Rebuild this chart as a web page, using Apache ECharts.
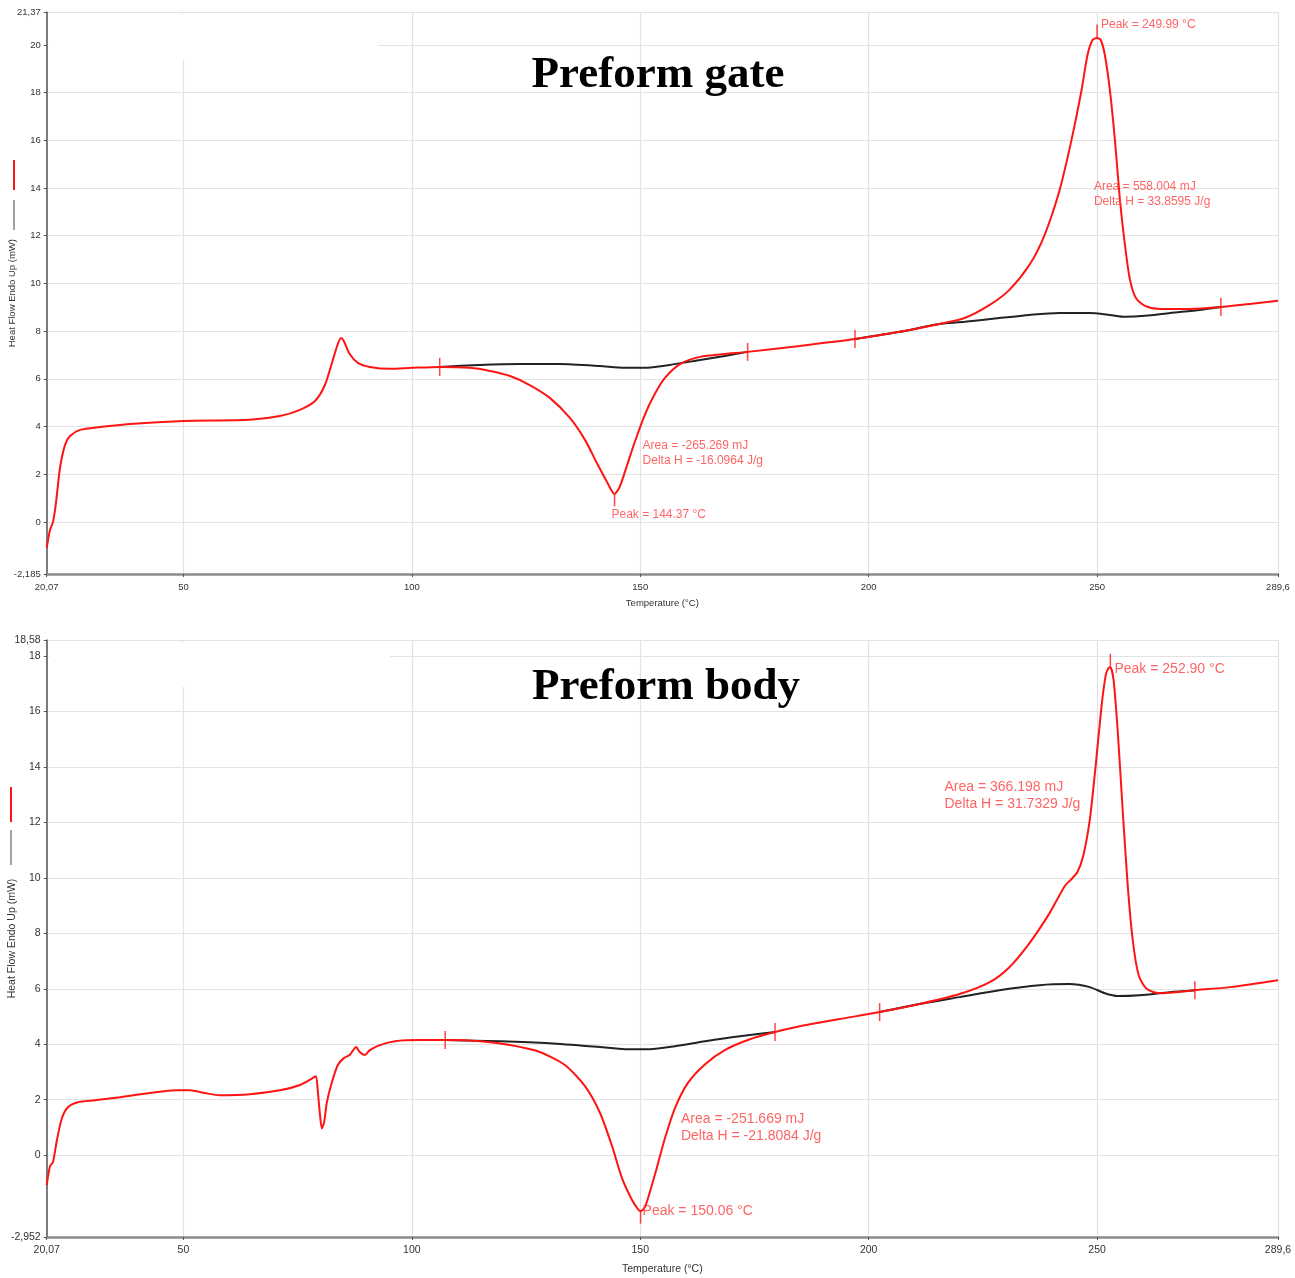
<!DOCTYPE html>
<html>
<head>
<meta charset="utf-8">
<script src="https://cdn.jsdelivr.net/npm/echarts@6.0.0/dist/echarts.min.js"></script>
<style>
html, body { margin: 0; padding: 0; background: #fff; }
#view { width: 1295px; height: 1278px; }
</style>
</head>
<body>
<div id="view"></div>
<script>
var myCharts = echarts.init(document.getElementById("view"));

/* 上图：Preform gate */
var gateCurve = [
  [20.07, -1.09], [20.79, -0.34], [21.45, 0.0], [22.1, 0.8], [22.98, 2.26], [24.08, 3.23],
  [25.17, 3.6], [27.36, 3.86], [31.73, 3.98], [38.3, 4.11], [50.1, 4.23], [64.5, 4.28],
  [71.1, 4.44], [75.5, 4.7], [78.8, 5.07], [80.97, 5.74], [82.7, 6.79], [83.8, 7.46],
  [84.5, 7.71], [85.1, 7.59], [86.4, 7.04], [88.2, 6.67], [90.8, 6.5], [95.2, 6.42],
  [100.0, 6.46], [106.1, 6.5], [112.7, 6.46], [117.1, 6.33], [121.5, 6.12], [125.8, 5.74],
  [130.2, 5.2], [134.6, 4.36], [137.9, 3.44], [140.5, 2.47], [142.7, 1.68], [144.37, 1.17],
  [145.5, 1.47], [147.0, 2.31], [148.8, 3.35], [151.0, 4.49], [153.2, 5.37], [155.4, 6.04],
  [158.7, 6.62], [163.1, 6.92], [168.5, 7.04], [173.5, 7.13], [184.9, 7.38], [197.0, 7.67],
  [206.8, 7.97], [215.5, 8.3], [221.0, 8.55], [226.5, 9.1], [230.8, 9.73], [235.2, 10.78],
  [238.5, 12.03], [241.8, 13.92], [244.4, 16.02], [246.6, 18.11], [247.9, 19.58], [249.0, 20.21],
  [249.99, 20.29], [250.8, 20.21], [251.7, 19.58], [252.8, 18.11], [253.9, 16.02], [255.0, 13.5],
  [256.1, 11.61], [257.2, 10.15], [258.5, 9.39], [260.5, 9.06], [263.8, 8.93], [270.3, 8.93],
  [277.1, 9.01], [283.4, 9.14], [289.6, 9.27]
];
var gateBase1 = [
  [106.1, 6.5], [114.8, 6.58], [123.6, 6.62], [132.3, 6.62], [141.1, 6.54], [146.5, 6.46],
  [151.0, 6.46], [156.4, 6.58], [163.1, 6.79], [168.5, 6.96], [173.5, 7.13]
];
var gateBase2 = [
  [197.0, 7.67], [206.8, 7.97], [215.5, 8.3], [221.0, 8.39], [228.6, 8.55], [235.2, 8.68],
  [241.8, 8.76], [248.3, 8.76], [252.8, 8.68], [256.1, 8.6], [260.5, 8.64], [266.0, 8.76],
  [272.5, 8.89], [277.1, 9.01]
];
var gateLimits = [[106.1, 6.5], [173.5, 7.13], [197.0, 7.67], [277.1, 9.01]];
var gatePeaks = [[144.37, 1.17, 'down'], [249.99, 20.29, 'up']];
var gateNotes = [
  [250.86, 20.84, 'Peak = 249.99 °C'],
  [249.3, 13.75, 'Area = 558.004 mJ\nDelta H = 33.8595 J/g'],
  [150.5, 2.89, 'Area = -265.269 mJ\nDelta H = -16.0964 J/g'],
  [143.7, 0.29, 'Peak = 144.37 °C']
];
var gateYTicks = [-2.185, 0, 2, 4, 6, 8, 10, 12, 14, 16, 18, 20, 21.37];

/* 下图：Preform body */
var bodyCurve = [
  [20.07, -1.08], [20.79, -0.4], [21.45, -0.25], [22.3, 0.54], [23.4, 1.33], [24.7, 1.73],
  [26.9, 1.91], [30.6, 1.98], [36.1, 2.09], [42.7, 2.24], [48.2, 2.34], [51.4, 2.34],
  [54.7, 2.24], [58.0, 2.16], [64.6, 2.2], [71.1, 2.34], [75.5, 2.53], [78.3, 2.78],
  [79.0, 2.85], [79.4, 2.34], [79.9, 1.44], [80.3, 0.97], [80.8, 1.19], [81.4, 1.91],
  [82.5, 2.63], [83.8, 3.25], [85.1, 3.5], [86.4, 3.61], [87.8, 3.9], [88.6, 3.72],
  [89.7, 3.61], [90.8, 3.79], [93.0, 3.97], [96.3, 4.11], [101.8, 4.15], [107.3, 4.15],
  [114.9, 4.11], [121.5, 3.97], [128.0, 3.72], [133.5, 3.25], [137.9, 2.49], [141.2, 1.52],
  [143.9, 0.29], [146.0, -0.83], [148.2, -1.62], [149.5, -1.95], [150.06, -2.02], [151.0, -1.88],
  [152.1, -1.33], [153.6, -0.47], [155.4, 0.61], [157.6, 1.7], [160.4, 2.6], [164.2, 3.28],
  [168.5, 3.79], [174.0, 4.18], [179.5, 4.44], [184.9, 4.65], [193.7, 4.91], [202.4, 5.16],
  [211.1, 5.45], [219.9, 5.81], [226.5, 6.24], [230.8, 6.78], [235.2, 7.65], [239.6, 8.73],
  [242.9, 9.7], [244.4, 9.96], [245.7, 10.21], [247.0, 10.82], [248.4, 12.09], [249.7, 14.07],
  [251.0, 16.23], [251.9, 17.32], [252.5, 17.57], [252.9, 17.6], [253.6, 17.14], [254.5, 15.33],
  [255.6, 12.45], [256.7, 9.74], [257.8, 7.76], [259.1, 6.49], [260.9, 5.99], [263.8, 5.84],
  [271.4, 5.95], [279.1, 6.06], [289.6, 6.31]
];
var bodyBase1 = [
  [107.3, 4.15], [119.3, 4.11], [130.2, 4.04], [141.2, 3.9], [146.6, 3.82], [152.1, 3.82],
  [157.6, 3.93], [164.2, 4.11], [171.8, 4.29], [179.5, 4.44]
];
var bodyBase2 = [
  [202.4, 5.16], [211.1, 5.45], [219.9, 5.7], [228.6, 5.95], [237.4, 6.13], [243.9, 6.17],
  [248.4, 6.06], [251.7, 5.84], [254.5, 5.74], [259.3, 5.77], [265.9, 5.88], [271.4, 5.95]
];
var bodyLimits = [[107.3, 4.15], [179.5, 4.44], [202.4, 5.16], [271.4, 5.95]];
var bodyPeaks = [[150.06, -2.02, 'down'], [252.9, 17.6, 'up']];
var bodyNotes = [
  [253.8, 17.53, 'Peak = 252.90 °C'],
  [216.6, 12.95, 'Area = 366.198 mJ\nDelta H = 31.7329 J/g'],
  [158.9, 1.01, 'Area = -251.669 mJ\nDelta H = -21.8084 J/g'],
  [150.5, -2.02, 'Peak = 150.06 °C']
];
var bodyYTicks = [-2.952, 0, 2, 4, 6, 8, 10, 12, 14, 16, 18, 18.58];

var xTicks = [20.07, 50, 100, 150, 200, 250, 289.6];

var RED = '#ff1414';
var NOTE_RED = '#ff3c3c';

function comma(v) {
    return String(v).replace('.', ',');
}

function makeXAxis(gi, ticks, fs, gap) {
    return {
        gridIndex: gi, type: 'value', min: ticks[0], max: ticks[ticks.length - 1],
        name: 'Temperature (°C)', nameLocation: 'middle', nameGap: gap, nameMoveOverlap: false,
        nameTextStyle: { fontSize: fs, color: '#333', fontFamily: 'Liberation Sans' },
        axisLine: { onZero: false, lineStyle: { color: '#8a8a8a', width: 2.5 } },
        axisTick: { customValues: ticks, length: 3, lineStyle: { color: '#555' } },
        axisLabel: { customValues: ticks, formatter: comma, fontSize: fs, color: '#333', margin: 8, fontFamily: 'Liberation Sans' },
        splitLine: { show: true, lineStyle: { color: '#e2e2e2', width: 1.2 } }
    };
}

function makeYAxis(gi, ticks, fs) {
    return {
        gridIndex: gi, type: 'value', min: ticks[0], max: ticks[ticks.length - 1],
        name: 'Heat Flow Endo Up (mW)', nameLocation: 'middle', nameGap: 29, nameRotate: 90,
        nameMoveOverlap: false,
        nameTextStyle: { fontSize: fs, color: '#333', fontFamily: 'Liberation Sans' },
        axisLine: { show: true, onZero: false, lineStyle: { color: '#555', width: 1.5 } },
        axisTick: { show: true, customValues: ticks, length: 3, lineStyle: { color: '#555' } },
        axisLabel: { customValues: ticks, formatter: comma, fontSize: fs, color: '#333', margin: 6, fontFamily: 'Liberation Sans' },
        splitLine: { show: true, lineStyle: { color: '#e2e2e2', width: 1.2 } }
    };
}

function curveSeries(gi, data, color) {
    return {
        type: 'line', xAxisIndex: gi, yAxisIndex: gi, data: data,
        showSymbol: false, smooth: 0.25,
        lineStyle: { color: color, width: 2 }, z: color === RED ? 4 : 3, silent: true
    };
}

function limitSeries(gi, data) {
    return {
        type: 'scatter', xAxisIndex: gi, yAxisIndex: gi, data: data,
        symbol: 'rect', symbolSize: [1.5, 18], itemStyle: { color: RED }, z: 5, silent: true
    };
}

function peakSeries(gi, data) {
    return {
        type: 'scatter', xAxisIndex: gi, yAxisIndex: gi,
        data: data.map(function (p) {
            return {
                value: [p[0], p[1]],
                symbolOffset: [0, p[2] === 'down' ? 6 : -7]
            };
        }),
        symbol: 'rect', symbolSize: [1.5, 13], itemStyle: { color: RED }, z: 5, silent: true
    };
}

function noteSeries(gi, data, fs, lh) {
    return {
        type: 'scatter', xAxisIndex: gi, yAxisIndex: gi, symbolSize: 0,
        data: data.map(function (n) { return { value: [n[0], n[1]], note: n[2] }; }),
        label: {
            show: true, position: 'right', distance: 0,
            formatter: function (p) { return p.data.note; },
            color: NOTE_RED, fontSize: fs, lineHeight: lh, fontFamily: 'Liberation Sans'
        },
        z: 6, silent: true
    };
}

option = {
    animation: false,
    backgroundColor: '#fff',
    grid: [
        { left: 46.7, right: 17, top: 12.3, height: 561.7, outerBoundsMode: 'none' },
        { left: 46.7, right: 17, top: 640, height: 597, outerBoundsMode: 'none' }
    ],
    xAxis: [makeXAxis(0, xTicks, 9.5, 24), makeXAxis(1, xTicks, 10.5, 27)],
    yAxis: [makeYAxis(0, gateYTicks, 9.5), makeYAxis(1, bodyYTicks, 10.5)],
    series: [
        curveSeries(0, gateBase1, '#222'),
        curveSeries(0, gateBase2, '#222'),
        curveSeries(0, gateCurve, RED),
        limitSeries(0, gateLimits),
        peakSeries(0, gatePeaks),
        noteSeries(0, gateNotes, 12, 15),
        curveSeries(1, bodyBase1, '#222'),
        curveSeries(1, bodyBase2, '#222'),
        curveSeries(1, bodyCurve, RED),
        limitSeries(1, bodyLimits),
        peakSeries(1, bodyPeaks),
        noteSeries(1, bodyNotes, 14, 17)
    ],
    graphic: [
        /* 白色遮挡块（原图标题贴图） */
        { type: 'rect', shape: { x: 49, y: 14, width: 329, height: 46 }, style: { fill: '#fff' }, z: 1 },
        { type: 'rect', shape: { x: 49, y: 642, width: 341, height: 45 }, style: { fill: '#fff' }, z: 1 },
        /* 标题 */
        { type: 'text', x: 658, y: 75, z: 10, style: { text: 'Preform gate', font: 'bold 45px "Liberation Serif"', fill: '#000', align: 'center', verticalAlign: 'middle' } },
        { type: 'text', x: 666, y: 687, z: 10, style: { text: 'Preform body', font: 'bold 45px "Liberation Serif"', fill: '#000', align: 'center', verticalAlign: 'middle' } },
        /* 图例短线 */
        { type: 'line', z: 10, shape: { x1: 14, y1: 160, x2: 14, y2: 190 }, style: { stroke: RED, lineWidth: 2 } },
        { type: 'line', z: 10, shape: { x1: 14, y1: 200, x2: 14, y2: 230 }, style: { stroke: '#444', lineWidth: 1 } },
        { type: 'line', z: 10, shape: { x1: 11, y1: 787, x2: 11, y2: 822 }, style: { stroke: RED, lineWidth: 2 } },
        { type: 'line', z: 10, shape: { x1: 11, y1: 830, x2: 11, y2: 865 }, style: { stroke: '#444', lineWidth: 1 } }
    ]
};

myCharts.setOption(option);
</script>
</body>
</html>
